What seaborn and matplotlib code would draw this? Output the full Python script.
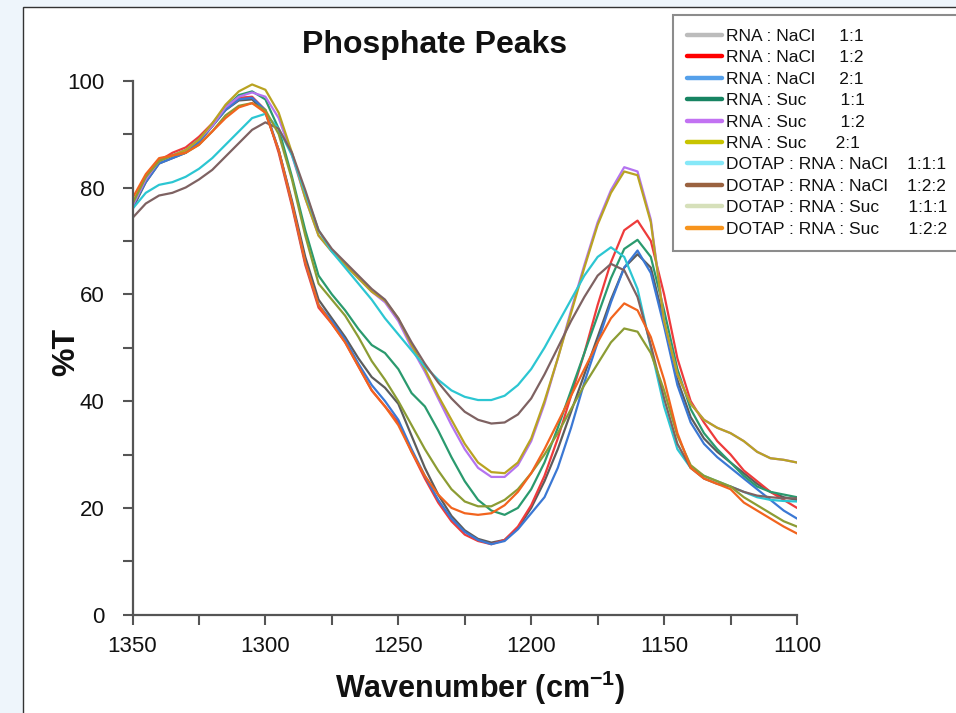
import numpy as np
import pandas as pd
import matplotlib
matplotlib.use("Agg")
import matplotlib.pyplot as plt
from matplotlib.lines import Line2D
from matplotlib.patches import Rectangle
import seaborn as sns

# ---------------- data ----------------
wavenumber = list(range(1350, 1099, -5))

series_names = [
    "RNA : NaCl     1:1",
    "RNA : NaCl     1:2",
    "RNA : NaCl     2:1",
    "RNA : Suc       1:1",
    "RNA : Suc       1:2",
    "RNA : Suc      2:1",
    "DOTAP : RNA : NaCl    1:1:1",
    "DOTAP : RNA : NaCl    1:2:2",
    "DOTAP : RNA : Suc      1:1:1",
    "DOTAP : RNA : Suc      1:2:2",
]

rna_nacl_1_1 = [76, 81, 84.5, 85.5, 86.5, 88.5, 91.5, 94.5, 96.3, 96.5, 94, 87, 77.5, 67, 59, 55.5,
                52, 48, 44.5, 42.5, 39.5, 33.5, 27.5, 22.5, 18.5, 15.8, 14.2, 13.5, 14, 16.2, 20,
                25, 31, 38, 45, 52, 59, 65, 67.5, 65, 55, 44, 37, 33, 30.5, 28.5, 26.5, 24.5, 23,
                22, 21.5]
rna_nacl_1_2 = [76.5, 81.5, 85, 86.5, 87.5, 89.5, 92, 95, 96.8, 97, 94.5, 86.5, 76.5, 65.5, 57.5,
                54.5, 51, 46.5, 42, 39, 36, 30.5, 25.5, 21, 17.5, 15, 13.8, 13.2, 14, 16.5, 20.5,
                26, 33, 41, 49, 58, 66, 72, 73.8, 70, 60, 48, 40, 36, 32.5, 30, 27, 25, 23, 21.5,
                20]
rna_nacl_2_1 = [76.5, 81, 84.5, 85.5, 86.5, 88.5, 91.5, 94.5, 96.5, 96.8, 94.5, 87, 77, 66, 58, 55,
                51.5, 47, 43, 40, 36.5, 31, 26, 21.5, 18, 15.5, 14, 13.2, 13.8, 16, 19, 22, 27.5,
                35, 43.5, 51, 58.5, 65, 68.2, 64, 54, 43, 36, 32, 29.5, 27.5, 25.5, 23.5, 21.5,
                19.5, 18]
rna_suc_1_1 = [76.5, 81.5, 85, 86, 87, 89, 91.5, 95, 97.3, 98, 96.5, 91, 82, 72, 63.5, 60, 57, 53.5,
               50.5, 49, 46, 41.5, 39, 34.5, 29.5, 25, 21.5, 19.5, 18.7, 20, 23.5, 28.5, 35, 42,
               49, 56, 63, 68.5, 70.2, 67, 57, 46, 38.5, 34, 31, 28.5, 26, 24, 23, 22.5, 22]
rna_suc_1_2 = [76.5, 81.5, 85, 86, 87, 89, 91.5, 95, 97, 97.8, 97, 93, 86, 78, 71, 68, 65.5, 63,
               60.5, 58.5, 55, 50, 45.5, 40.5, 35.5, 31, 27.5, 25.8, 25.8, 28, 32.5, 39.5, 48,
               57, 65.5, 73.5, 79.5, 83.8, 83, 74, 55, 45, 39.5, 36.5, 35, 34, 32.5, 30.5, 29.3,
               29, 28.5]
rna_suc_2_1 = [77, 82, 85, 86, 87, 89, 92, 95.5, 98, 99.3, 98.3, 94, 86.5, 78, 71, 68, 65.5, 63,
               60.5, 58.8, 55.5, 50.5, 46, 41, 36.5, 32, 28.5, 26.7, 26.5, 28.5, 33, 40, 48,
               56.5, 65, 73, 79, 83, 82.3, 73.5, 55, 45, 39.5, 36.5, 35, 34, 32.5, 30.5, 29.3,
               29, 28.5]
dotap_nacl_1_1_1 = [76, 79, 80.5, 81, 82, 83.5, 85.5, 88, 90.5, 93, 93.8, 91, 86, 79, 72, 68, 65,
                    62, 59, 55.5, 52.5, 49.5, 46.5, 44, 42, 40.8, 40.2, 40.2, 41, 43, 46, 50,
                    54.5, 59, 63.5, 67, 68.8, 67, 61, 50, 39, 31, 27.5, 26, 25, 24, 23, 22,
                    21.5, 21.3, 21.2]
dotap_nacl_1_2_2 = [74.3, 77, 78.5, 79, 80, 81.5, 83.3, 85.8, 88.3, 90.8, 92.2, 91, 86.5, 79.5, 72,
                    68.5, 66, 63.5, 61, 59, 55.5, 51, 47, 43.5, 40.5, 38, 36.5, 35.8, 36, 37.5,
                    40.5, 45, 50, 55, 59.5, 63.5, 65.7, 64.5, 59.5, 50.5, 40.5, 32, 27.5, 25.5,
                    24.5, 24, 23, 22.3, 22, 21.8, 21.8]
dotap_suc_1_1_1 = [77, 82, 85, 86, 86.5, 88, 90.5, 93.5, 95.3, 95.8, 94.5, 90, 81.5, 71, 62, 59, 56,
                   52, 47.5, 44, 40, 35.5, 31, 27, 23.5, 21.2, 20.3, 20.3, 21.5, 23.5, 26.5, 30,
                   34, 38.5, 43, 47, 51, 53.6, 53, 49, 42, 33.5, 28, 26, 25, 24, 22, 20.5, 19,
                   17.5, 16.5]
dotap_suc_1_2_2 = [78, 82.5, 85.5, 86, 86.5, 88, 90.5, 93, 95, 95.8, 94, 87, 77, 66, 58, 54.5, 51,
                   46.5, 42, 39, 35.5, 30.5, 26, 22.5, 20, 19, 18.7, 19, 20.5, 23, 26.5, 31, 36,
                   41, 46, 51, 55.5, 58.3, 57, 52, 44, 34, 27.5, 25.5, 24.5, 23.5, 21, 19.5, 18,
                   16.5, 15.2]

all_values = [rna_nacl_1_1, rna_nacl_1_2, rna_nacl_2_1, rna_suc_1_1, rna_suc_1_2, rna_suc_2_1,
              dotap_nacl_1_1_1, dotap_nacl_1_2_2, dotap_suc_1_1_1, dotap_suc_1_2_2]

line_colors = ["#5c5c5c", "#ee3b3b", "#3b78d4", "#2a9a6e", "#b473f0", "#b9a322",
               "#2cc6d2", "#7e6262", "#8c9c34", "#f2641e"]
legend_colors = ["#bcbcbc", "#ff0000", "#55a0ea", "#178462", "#c272f2", "#c8c400",
                 "#86e8f8", "#9a6240", "#d6e0ba", "#f7941d"]

xticks_major = [1350, 1300, 1250, 1200, 1150, 1100]
yticks_major = [0, 20, 40, 60, 80, 100]

df = pd.DataFrame({
    "Wavenumber": np.tile(wavenumber, len(series_names)),
    "T": np.concatenate([np.asarray(v, float) for v in all_values]),
    "Sample": np.repeat(series_names, len(wavenumber)),
})

# ---------------- figure ----------------
sns.set_theme(style="white")
plt.rcParams["font.family"] = ["Liberation Sans", "DejaVu Sans"]
plt.rcParams["mathtext.fontset"] = "custom"
plt.rcParams["mathtext.rm"] = "Liberation Sans"
plt.rcParams["mathtext.bf"] = "Liberation Sans:bold"
plt.rcParams["text.color"] = "#111111"

fig = plt.figure(figsize=(9.56, 7.13), dpi=100, facecolor="#eef5fb")
panel = Rectangle((23 / 956, -0.01), 1.0, 1 - 7 / 713 + 0.01, transform=fig.transFigure,
                  facecolor="white", edgecolor="#333333", linewidth=1.0, zorder=-10)
fig.patches.append(panel)

ax = fig.add_axes([132.5 / 956, 1 - 614.7 / 713, (797 - 132.5) / 956, (614.7 - 80.7) / 713])
ax.set_facecolor("none")
ax.set_zorder(2)

sns.lineplot(data=df, x="Wavenumber", y="T", hue="Sample", hue_order=series_names,
             palette=line_colors, linewidth=1.6, legend=False, ax=ax, sort=False,
             estimator=None)

ax.set_xlim(1350, 1100)
ax.set_ylim(0, 100)
ax.set_xticks(xticks_major)
ax.set_xticks(list(range(1350, 1099, -25)), minor=True)
ax.set_yticks(yticks_major)
ax.set_yticks(list(range(0, 101, 10)), minor=True)
ax.set_xticklabels([str(v) for v in xticks_major], fontsize=16, color="#111111")
ax.set_yticklabels([str(v) for v in yticks_major], fontsize=16, color="#111111")
ax.tick_params(axis="both", which="both", direction="out", length=7, width=1.5,
               color="#555555", bottom=True, left=True)
ax.tick_params(axis="x", which="major", pad=8)
ax.tick_params(axis="y", which="major", pad=13)
for side in ["top", "right"]:
    ax.spines[side].set_visible(False)
for side in ["left", "bottom"]:
    ax.spines[side].set_color("#555555")
    ax.spines[side].set_linewidth(1.6)

ax.set_xlabel("")
ax.set_ylabel("")
fig.text(480 / 956, 1 - 688 / 713, r"Wavenumber (cm$^{\mathbf{-1}}$)", fontsize=22,
         fontweight="bold", ha="center", va="center", color="#111111")
fig.text(66 / 956, 1 - 352 / 713, "%T", fontsize=23, fontweight="bold", rotation=90,
         ha="center", va="center", color="#111111")
fig.text(435 / 956, 1 - 45 / 713, "Phosphate Peaks", fontsize=23, fontweight="bold",
         ha="center", va="center", color="#111111")

handles = [Line2D([0], [0], color=c, linewidth=3.2) for c in legend_colors]
leg = fig.legend(handles, series_names, loc="upper left",
                 bbox_to_anchor=(673 / 956, 1 - 15 / 713), bbox_transform=fig.transFigure,
                 fontsize=12.5, frameon=True, fancybox=False, shadow=False,
                 handlelength=2.0, handletextpad=0.25, labelspacing=0.36, borderpad=0.8,
                 borderaxespad=0.0)
for t in leg.get_texts():
    t.set_color("#111111")
leg.get_frame().set_edgecolor("#8c8c8c")
leg.get_frame().set_linewidth(1.5)
leg.get_frame().set_facecolor("white")
leg.get_frame().set_alpha(1.0)

fig.savefig("out.png", dpi=100, facecolor=fig.get_facecolor())
